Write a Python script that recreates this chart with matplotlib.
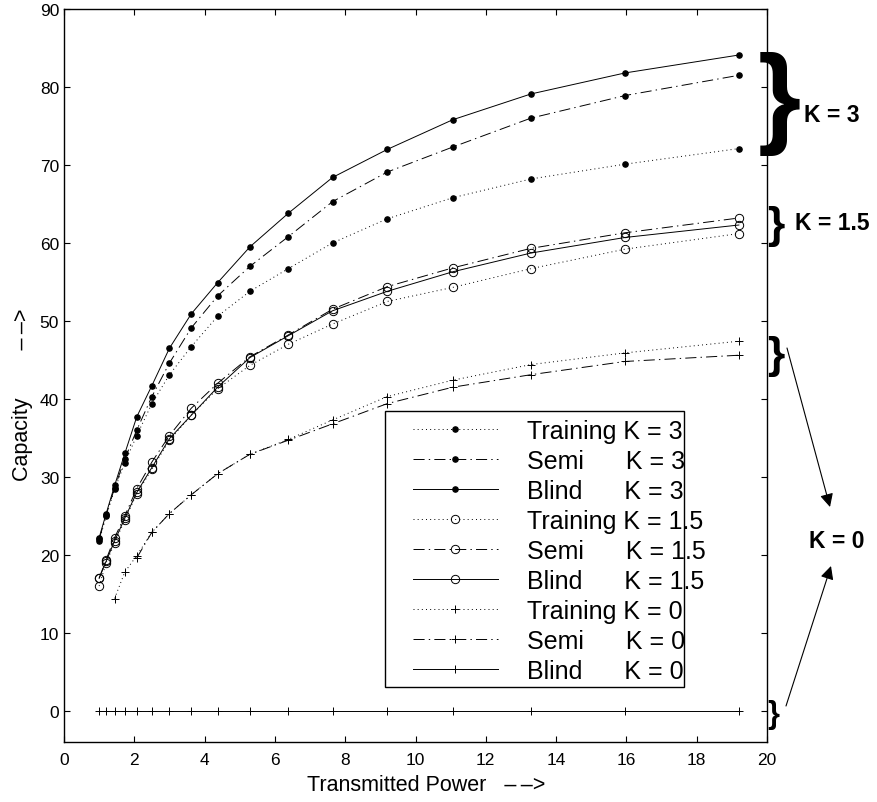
import matplotlib
matplotlib.use("Agg")
import matplotlib.pyplot as plt
from matplotlib.patches import Rectangle

plt.rcParams['font.family'] = ['Liberation Sans', 'DejaVu Sans']
plt.rcParams['lines.scale_dashes'] = False

# transmitted power (x axis)
power = [1.0, 1.2, 1.44, 1.73, 2.07, 2.5, 3.0, 3.62, 4.37, 5.29, 6.38, 7.64, 9.2, 11.06, 13.28, 15.96, 19.2]

# K = 3
training_k3 = [21.8, 25.0, 28.4, 31.8, 35.3, 39.4, 43.1, 46.7, 50.6, 53.8, 56.7, 60.0, 63.1, 65.8, 68.2, 70.1, 72.1]
semi_k3 = [22.0, 25.1, 28.6, 32.3, 36.0, 40.3, 44.6, 49.1, 53.2, 57.0, 60.8, 65.3, 69.1, 72.3, 76.0, 78.9, 81.5]
blind_k3 = [22.2, 25.3, 28.9, 33.0, 37.7, 41.7, 46.5, 50.9, 54.9, 59.5, 63.8, 68.4, 72.0, 75.8, 79.1, 81.8, 84.1]

# K = 1.5
training_k15 = [16.0, 19.0, 21.5, 24.5, 27.8, 31.0, 34.7, 37.9, 41.3, 44.3, 47.0, 49.6, 52.5, 54.3, 56.7, 59.2, 61.2]
semi_k15 = [17.0, 19.4, 22.2, 25.0, 28.5, 31.9, 35.3, 38.8, 42.0, 45.4, 48.2, 51.5, 54.4, 56.8, 59.3, 61.3, 63.2]
blind_k15 = [17.0, 19.2, 21.8, 24.7, 28.0, 31.2, 34.9, 37.9, 41.5, 45.3, 48.1, 51.3, 53.8, 56.3, 58.7, 60.7, 62.3]

# K = 0 (training starts at the 3rd power value, semi at the 5th)
training_k0_x = power[2:]
training_k0 = [14.4, 17.8, 19.9, 22.9, 25.3, 27.7, 30.4, 32.9, 34.8, 37.3, 40.3, 42.4, 44.4, 45.9, 47.4]
semi_k0_x = power[4:]
semi_k0 = [19.6, 22.9, 25.3, 27.7, 30.4, 32.9, 34.7, 36.8, 39.4, 41.5, 43.1, 44.8, 45.6]
blind_k0 = [0.0] * len(power)

dotted = (0, (0.7, 2.3))
dashdot = (0, (8, 3, 1, 3))
solid = '-'
lw = 0.7

fig = plt.figure(figsize=(8.77, 8.03), dpi=100)
W, H = 877, 803
ax = fig.add_axes([64 / W, 60 / H, 703 / W, 733 / H])

dot_kw = dict(marker='.', markersize=7.5, color='k')
circ_kw = dict(marker='o', markersize=6, markerfacecolor='none', markeredgewidth=0.7, color='k')
plus_kw = dict(marker='+', markersize=6, markeredgewidth=0.7, color='k')

ax.plot(power, training_k3, linestyle=dotted, lw=lw, label='Training K = 3', **dot_kw)
ax.plot(power, semi_k3, linestyle=dashdot, lw=lw, label='Semi      K = 3', **dot_kw)
ax.plot(power, blind_k3, linestyle=solid, lw=lw, label='Blind      K = 3', **dot_kw)
ax.plot(power, training_k15, linestyle=dotted, lw=lw, label='Training K = 1.5', **circ_kw)
ax.plot(power, semi_k15, linestyle=dashdot, lw=lw, label='Semi      K = 1.5', **circ_kw)
ax.plot(power, blind_k15, linestyle=solid, lw=lw, label='Blind      K = 1.5', **circ_kw)
ax.plot(training_k0_x, training_k0, linestyle=dotted, lw=lw, label='Training K = 0', **plus_kw)
ax.plot(semi_k0_x, semi_k0, linestyle=dashdot, lw=lw, label='Semi      K = 0', **plus_kw)
ax.plot(power, blind_k0, linestyle=solid, lw=lw, label='Blind      K = 0', **plus_kw)

ax.set_xlim(0, 20)
ax.set_ylim(-4, 90)
ax.set_xticks(range(0, 21, 2))
ax.set_yticks(range(0, 91, 10))
ax.tick_params(direction='in', length=4.5, width=0.8, top=True, right=True, labelsize=12.5)
ax.tick_params(axis='x', pad=7)
for s in ax.spines.values():
    s.set_linewidth(1.0)

ax.set_xlabel('Transmitted Power   \u2013\u2009\u2013>', fontsize=15.5)
ax.set_ylabel('Capacity        \u2013\u2009\u2013>', fontsize=15.5)
ax.xaxis.set_label_coords(0.5157, -0.044)
ax.yaxis.set_label_coords(-0.044, 0.475)

# legend box drawn separately so its padding matches the original
ax.add_patch(Rectangle((0.4566, 0.075), 0.425, 0.3765, transform=ax.transAxes,
                       facecolor='white', edgecolor='k', lw=1.0, zorder=3))
leg = ax.legend(loc='upper left', bbox_to_anchor=(0.4964, 0.4407), frameon=False,
                fontsize=18, handlelength=3.4, handletextpad=1.15, labelspacing=0.24,
                borderpad=0, borderaxespad=0)
leg.set_zorder(5)


def px(x, y):
    return x / W, 1 - y / H


# braces and K labels on the right
fig.text(*px(779, 133), '}', fontsize=80, fontweight='bold', ha='center', va='baseline')
fig.text(*px(776, 238), '}', fontsize=32, fontweight='bold', ha='center', va='baseline')
fig.text(*px(776, 368), '}', fontsize=32, fontweight='bold', ha='center', va='baseline')
fig.text(*px(773, 723), '}', fontsize=22, fontweight='bold', ha='center', va='baseline')

fig.text(*px(804, 116), 'K = 3', fontsize=16.5, fontweight='bold', ha='left', va='center')
fig.text(*px(795, 223), 'K = 1.5', fontsize=16.5, fontweight='bold', ha='left', va='center')
fig.text(*px(837, 542), 'K = 0', fontsize=16.5, fontweight='bold', ha='center', va='center')

arrow = dict(arrowstyle='-|>', lw=0.8, color='k', mutation_scale=20, shrinkA=0, shrinkB=0)
ax.annotate('', xy=px(830, 508), xytext=px(787, 349), xycoords='figure fraction',
            textcoords='figure fraction', arrowprops=arrow)
ax.annotate('', xy=px(831, 567), xytext=px(786, 707), xycoords='figure fraction',
            textcoords='figure fraction', arrowprops=arrow)

fig.savefig('out.png', dpi=100)
